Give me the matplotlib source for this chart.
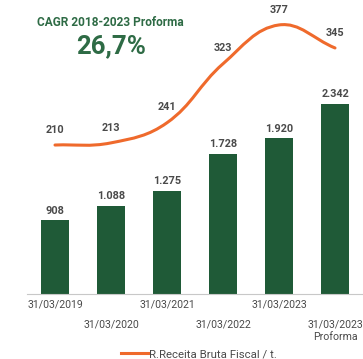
import numpy as np
import matplotlib
matplotlib.use('Agg')
import matplotlib.pyplot as plt
from matplotlib.path import Path
from matplotlib.patches import PathPatch
from matplotlib.lines import Line2D

###############################
# Data

dates = ['31/03/2019', '31/03/2020', '31/03/2021', '31/03/2022', '31/03/2023', '31/03/2023\nProforma']
bar_values = [908, 1088, 1275, 1728, 1920, 2342]
bar_labels = ['908', '1.088', '1.275', '1.728', '1.920', '2.342']
line_values = [210, 213, 241, 323, 377, 345]
line_name = 'R.Receita Bruta Fiscal / t.'
cagr_title = 'CAGR 2018-2023 Proforma'
cagr_value = '26,7%'

###############################

green = '#1f5a37'
orange = '#ef6a2c'
gray = '#4a4a4a'
plt.rcParams['font.family'] = ['Roboto', 'DejaVu Sans']

fig = plt.figure(figsize=(3.63, 3.59), dpi=100)
ax = fig.add_axes([27 / 363, 65 / 359, 336 / 363, 294 / 359])
ax2 = ax.twinx()

x = np.arange(len(dates))

# bars
ax.bar(x, bar_values, width=0.5, color=green, zorder=2)
ax.set_xlim(-0.5, 5.5)
ax.set_ylim(0, 3625)
for xi, v, lab in zip(x, bar_values, bar_labels):
    ax.annotate(lab, (xi, v), xytext=(0, 7), textcoords='offset points',
                ha='center', va='center', fontsize=7.8, fontweight='bold', color=gray)

# smooth line (chart.js-like spline, tension 0.4)
ax2.set_ylim(2.8, 411.7)
ax2.set_xlim(-0.5, 5.5)
pts = ax2.transData.transform(np.column_stack([x, line_values]))
tension = 0.4
verts = [pts[0]]
codes = [Path.MOVETO]
cps = []
for i in range(len(pts)):
    prev = pts[i - 1] if i > 0 else pts[i]
    nxt = pts[i + 1] if i < len(pts) - 1 else pts[i]
    d01 = np.hypot(*(pts[i] - prev))
    d12 = np.hypot(*(nxt - pts[i]))
    tot = d01 + d12 if d01 + d12 > 0 else 1
    fa = tension * d01 / tot
    fb = tension * d12 / tot
    cps.append((pts[i] - fa * (nxt - prev), pts[i] + fb * (nxt - prev)))
for i in range(len(pts) - 1):
    verts += [cps[i][1], cps[i + 1][0], pts[i + 1]]
    codes += [Path.CURVE4] * 3
verts = ax2.transData.inverted().transform(np.array(verts))
ax2.add_patch(PathPatch(Path(verts, codes), facecolor='none', edgecolor=orange,
                        lw=2.2, capstyle='round', zorder=3))
for xi, v in zip(x, line_values):
    ax2.annotate(str(v), (xi, v), xytext=(0, 11), textcoords='offset points',
                 ha='center', va='center', fontsize=7.8, fontweight='bold', color=gray)

# axes styling
for a in (ax, ax2):
    for s in ('top', 'right', 'left'):
        a.spines[s].set_visible(False)
    a.set_yticks([])
    a.set_xticks([])
ax2.spines['bottom'].set_visible(False)
ax.spines['bottom'].set_color('#c8c8c8')
ax.spines['bottom'].set_linewidth(0.8)

# staggered date labels
for i, d in enumerate(dates):
    off = -4 if i % 2 == 0 else -18.5
    ax.annotate(d, (i, 0), xycoords=('data', 'axes fraction'), xytext=(0, off),
                textcoords='offset points', ha='center', va='top',
                fontsize=7.6, color=gray, linespacing=1.3, annotation_clip=False)

# CAGR text
fig.text(110 / 363, 1 - 22 / 359, cagr_title, ha='center', va='center',
         fontsize=8.6, fontweight='bold', color='#2e6b45')
fig.text(111 / 363, 1 - 46 / 359, cagr_value, ha='center', va='center',
         fontsize=18.5, fontweight='bold', color='#2e6b45')

# legend
handle = Line2D([], [], color=orange, lw=2.2)
fig.legend([handle], [line_name], loc='center', bbox_to_anchor=(199 / 363, 1 - 354 / 359),
           frameon=False, fontsize=8.2, handlelength=2.4, handletextpad=0.05,
           labelcolor=gray)

fig.savefig('out.png', dpi=100)
